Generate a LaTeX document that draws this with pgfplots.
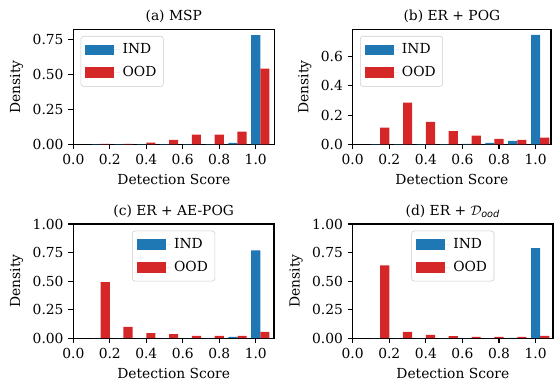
\documentclass[border=0pt]{standalone}
\usepackage{pgfplots}
\pgfplotsset{compat=1.18}
\usepackage{fontspec}
\setmainfont{DejaVu Serif}
\setsansfont{DejaVu Sans}
\definecolor{indblue}{HTML}{1F77B4}
\definecolor{oodred}{HTML}{D62728}
\pgfplotsset{
  hist/.style={
    scale only axis,
    xmin=0, ymin=0,
    axis line style={black, line width=0.8bp},
    every tick/.style={black, line width=0.8bp},
    major tick length=3.5bp,
    tick align=outside,
    xtick pos=bottom, ytick pos=left,
    xtick={0,0.2,0.4,0.6,0.8,1.0},
    xticklabel style={/pgf/number format/.cd, fixed, fixed zerofill, precision=1},
    /pgf/number format/assume math mode=true,
    tick label style={font=\fontsize{10}{12}\selectfont},
    label style={font=\fontsize{10}{12}\selectfont},
    xlabel={Detection Score},
    ylabel={Density},
    title style={font=\fontsize{10}{12}\selectfont, at={(0.5,1)}, anchor=base, yshift=0.5bp},
    legend cell align=left,
    legend style={font=\fontsize{10}{12}\selectfont, draw=black!20, rounded corners=2pt,
      fill=white, fill opacity=0.8, text opacity=1, row sep=3.5bp,
      inner xsep=3bp, inner ysep=3.5bp},
  },
  indbar/.style={ybar, bar width=0.05, bar shift=0pt, fill=indblue, draw=none,
    legend image code/.code={\fill[indblue, sharp corners, fill opacity=1] (0bp,-3.85bp) rectangle (20.9bp,3.85bp);
      \path (0bp,0bp) -- (25bp,0bp);}},
  oodbar/.style={ybar, bar width=0.05, bar shift=0pt, fill=oodred, draw=none,
    legend image code/.code={\fill[oodred, sharp corners, fill opacity=1] (0bp,-3.85bp) rectangle (20.9bp,3.85bp);
      \path (0bp,0bp) -- (25bp,0bp);}},
}
\begin{document}
\begin{tikzpicture}
\useasboundingbox (0,0) rectangle (398.88bp,273.6bp);
% (a)
\begin{axis}[hist, at={(52.78bp,169.70bp)}, anchor=south west,
  width=144.72bp, height=82.8bp, xmax=1.102, ymax=0.826,
  ytick={0,0.25,0.5,0.75},
  yticklabel style={/pgf/number format/.cd, fixed, fixed zerofill, precision=2},
  title={(a) MSP},
  legend style={at={(0,1)}, anchor=north west, xshift=5.3bp, yshift=-4.8bp}]
\addplot[indbar] coordinates {(0.125,0.002) (0.25,0.002) (0.375,0.002) (0.5,0.002) (0.625,0.002) (0.75,0.002) (0.875,0.010) (1.0,0.785)};
\addplot[oodbar] coordinates {(0.175,0.003) (0.3,0.003) (0.425,0.012) (0.55,0.031) (0.675,0.069) (0.8,0.069) (0.925,0.091) (1.05,0.543)};
\legend{IND,OOD}
\end{axis}
% (b)
\begin{axis}[hist, at={(253.94bp,169.70bp)}, anchor=south west,
  width=142.78bp, height=82.8bp, xmax=1.084, ymax=0.788,
  ytick={0,0.2,0.4,0.6},
  yticklabel style={/pgf/number format/.cd, fixed, fixed zerofill, precision=1},
  title={(b) ER + POG},
  legend style={at={(0,1)}, anchor=north west, xshift=5.3bp, yshift=-4.8bp}]
\addplot[indbar] coordinates {(0.125,0.002) (0.25,0.002) (0.375,0.002) (0.5,0.002) (0.625,0.003) (0.75,0.009) (0.875,0.023) (1.0,0.750)};
\addplot[oodbar] coordinates {(0.175,0.114) (0.3,0.285) (0.425,0.153) (0.55,0.091) (0.675,0.059) (0.8,0.037) (0.925,0.030) (1.05,0.046)};
\legend{IND,OOD}
\end{axis}
% (c)
\begin{axis}[hist, at={(52.78bp,30.1bp)}, anchor=south west,
  width=144.5bp, height=82.2bp, xmax=1.10, ymax=1,
  ytick={0,0.25,0.5,0.75,1},
  yticklabel style={/pgf/number format/.cd, fixed, fixed zerofill, precision=2},
  title={(c) ER + AE-POG},
  legend style={at={(0.5,1)}, anchor=north, yshift=-4.8bp}]
\addplot[indbar] coordinates {(0.125,0) (0.25,0) (0.375,0) (0.5,0) (0.625,0) (0.75,0) (0.875,0.012) (1.0,0.770)};
\addplot[oodbar] coordinates {(0.175,0.491) (0.3,0.099) (0.425,0.045) (0.55,0.036) (0.675,0.020) (0.8,0.020) (0.925,0.020) (1.05,0.055)};
\legend{IND,OOD}
\end{axis}
% (d)
\begin{axis}[hist, at={(253.94bp,30.1bp)}, anchor=south west,
  width=144.2bp, height=82.2bp, xmax=1.095, ymax=1,
  ytick={0,0.25,0.5,0.75,1},
  yticklabel style={/pgf/number format/.cd, fixed, fixed zerofill, precision=2},
  title={(d) ER + $\mathcal{D}_{\mbox{\fontsize{7}{8}\selectfont\sffamily\itshape ood}}$},
  legend style={at={(0.5,1)}, anchor=north, yshift=-4.8bp}]
\addplot[indbar] coordinates {(0.125,0) (0.25,0) (0.375,0) (0.5,0) (0.625,0) (0.75,0) (0.875,0.002) (1.0,0.788)};
\addplot[oodbar] coordinates {(0.175,0.637) (0.3,0.055) (0.425,0.029) (0.55,0.018) (0.675,0.012) (0.8,0.012) (0.925,0.012) (1.05,0.020)};
\legend{IND,OOD}
\end{axis}
\end{tikzpicture}
\end{document}
